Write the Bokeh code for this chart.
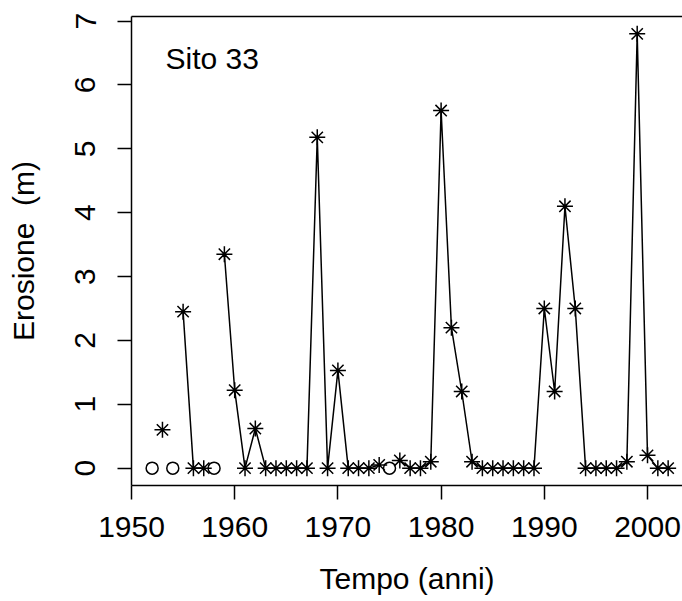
import math
from bokeh.plotting import figure
from bokeh.models import LinearAxis, FixedTicker, Range1d, ColumnDataSource, Label
from bokeh.embed import file_html
from bokeh.resources import INLINE

# ---- data ----
years = list(range(1952, 2003))
erosion = [
    None, 0.6, None, 2.45, 0, 0, None, 3.35, 1.22, 0,      # 1952-1961
    0.62, 0, 0, 0, 0, 0, 5.18, 0, 1.53, 0,                 # 1962-1971
    0, 0, 0.05, None, 0.12, 0, 0, 0.1, 5.6, 2.2,           # 1972-1981
    1.2, 0.1, 0, 0, 0, 0, 0, 0, 2.5, 1.2,                  # 1982-1991
    4.1, 2.5, 0, 0, 0, 0, 0.1, 6.8, 0.2, 0,                # 1992-2001
    0,                                                     # 2002
]
missing_years = [1952, 1954, 1958, 1975]
missing_values = [0, 0, 0, 0]
x_ticks = [1950, 1960, 1970, 1980, 1990, 2000]
y_ticks = [0, 1, 2, 3, 4, 5, 6, 7]
site_label = "Sito 33"
x_title = "Tempo (anni)"
y_title = "Erosione \u00a0(m)"

FONT = "Liberation Sans"
FS = "30px"

line_y = [float("nan") if v is None else v for v in erosion]
pts_x = [y for y, v in zip(years, erosion) if v is not None]
pts_y = [v for v in erosion if v is not None]

p = figure(width=682, height=601, output_backend="svg", toolbar_location=None,
           x_range=Range1d(1950, 2003.39), y_range=Range1d(-0.272, 7.072),
           x_axis_type=None, y_axis_type=None,
           min_border_left=131, min_border_right=0, min_border_top=16,
           min_border_bottom=116)
p.outline_line_color = None
p.xgrid.visible = False
p.ygrid.visible = False
p.background_fill_color = "white"
p.border_fill_color = "white"

# axes
xa = LinearAxis(ticker=FixedTicker(ticks=x_ticks), axis_label=x_title)
ya = LinearAxis(ticker=FixedTicker(ticks=y_ticks), axis_label=y_title)
for ax in (xa, ya):
    ax.major_tick_out = 14
    ax.major_tick_in = 0
    ax.minor_tick_out = 0
    ax.minor_tick_in = 0
    ax.axis_line_color = "black"
    ax.axis_line_width = 1.5
    ax.major_tick_line_width = 1.5
    ax.major_label_text_font = FONT
    ax.major_label_text_font_size = FS
    ax.major_label_text_color = "black"
    ax.axis_label_text_font = FONT
    ax.axis_label_text_font_size = FS
    ax.axis_label_text_font_style = "normal"
    ax.axis_label_text_color = "black"
ya.major_label_orientation = "vertical"
xa.major_label_standoff = 17
xa.axis_label_standoff = 22
ya.major_label_standoff = 22
ya.axis_label_standoff = 33
p.add_layout(xa, "below")
p.add_layout(ya, "left")

top = LinearAxis(ticker=FixedTicker(ticks=[]))
top.axis_line_width = 1.5
top.major_tick_out = 0
top.minor_tick_out = 0
top.major_label_text_font_size = "0px"
p.add_layout(top, "above")

# series
p.line(years, line_y, line_color="black", line_width=1.5)
p.scatter(pts_x, pts_y, marker="asterisk", size=16, line_color="black", line_width=1.5)
p.scatter(missing_years, missing_values, marker="circle", size=12,
          fill_color=None, line_color="black", line_width=1.5)

p.add_layout(Label(x=1953.3, y=6.42, text=site_label, text_font=FONT,
                   text_font_size=FS, text_baseline="middle", text_align="left",
                   text_color="black"))

open("out.html", "w").write(file_html(p, INLINE))
